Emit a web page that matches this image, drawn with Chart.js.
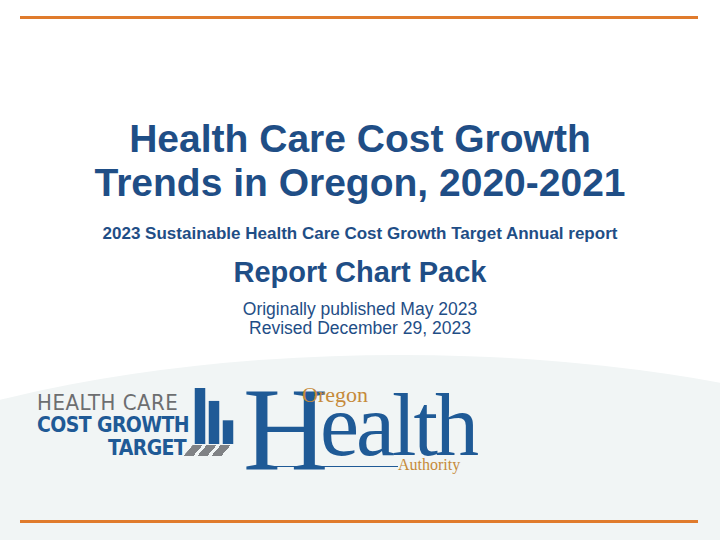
<!DOCTYPE html>
<html><head><meta charset="utf-8">
<script src="https://cdn.jsdelivr.net/npm/chart.js@4"></script>
<style>
body{margin:0;width:720px;height:540px;position:relative;overflow:hidden;background:#fff;font-family:"Liberation Sans",Arial,sans-serif;color:#1f4e86}
.rule{position:absolute;left:20px;width:678px;height:3px;background:#e07b2c}
.c{position:absolute;left:0;width:720px;text-align:center}
.bg{position:absolute;left:-300px;top:355px;width:1400px;height:500px;border-radius:50%;background:#f1f5f5}
.t{position:absolute;white-space:nowrap}
</style></head><body>
<div class="bg"></div>
<div class="rule" style="top:16px"></div>
<div class="rule" style="top:520px"></div>
<div class="c" style="top:117px;font-size:39px;font-weight:bold;line-height:44px">Health Care Cost Growth<br>Trends in Oregon, 2020-2021</div>
<div class="c" style="top:224px;font-size:17px;font-weight:bold">2023 Sustainable Health Care Cost Growth Target Annual report</div>
<div class="c" style="top:256px;font-size:29px;font-weight:bold">Report Chart Pack</div>
<div class="c" style="top:300px;font-size:17.5px;line-height:19px">Originally published May 2023<br>Revised December 29, 2023</div>

<div class="t" style="left:37px;top:390px;font-size:22px;color:#6d6e70;font-family:'DejaVu Sans Condensed';letter-spacing:0.5px">HEALTH CARE</div>
<div class="t" style="left:37px;top:413px;font-size:21px;color:#1f5a96;font-weight:bold;font-family:'DejaVu Sans Condensed';letter-spacing:-0.6px">COST GROWTH</div>
<div class="t" style="left:108px;top:436px;font-size:21px;color:#1f5a96;font-weight:bold;font-family:'DejaVu Sans Condensed';letter-spacing:-0.6px">TARGET</div>
<div style="position:absolute;left:188px;top:445px;width:40px;height:11px;background:repeating-linear-gradient(90deg,#808285 0 10px,transparent 10px 14px);transform:skewX(-40deg)"></div>
<div style="position:absolute;left:193px;top:388px;width:42px;height:56px"><canvas id="logo"></canvas></div>

<div class="t" style="left:243px;top:362px;font-size:118px;color:#1f5a96;font-family:'Liberation Serif'">H</div>
<div class="t" style="left:320px;top:375px;font-size:88px;color:#1f5a96;font-family:'Liberation Serif';letter-spacing:-3px">ealth</div>
<div class="t" style="left:302px;top:382px;font-size:22px;color:#c68a3a;font-family:'Liberation Serif'">Oregon</div>
<div style="position:absolute;left:262px;top:466px;width:136px;height:1px;background:#1f5a96"></div>
<div class="t" style="left:398px;top:456px;font-size:16px;color:#c68a3a;font-family:'Liberation Serif'">Authority</div>
<script>
const barNames = ["a", "b", "c"];
const barHeights = [52, 40, 22];
new Chart(document.getElementById("logo"), {
  type: "bar",
  data: { labels: barNames, datasets: [{ data: barHeights, backgroundColor: "#1f5a96", barPercentage: 0.75, categoryPercentage: 1 }] },
  options: {
    responsive: true, maintainAspectRatio: false, animation: false,
    layout: { padding: 0 },
    plugins: { legend: { display: false }, tooltip: { enabled: false } },
    scales: { x: { display: false }, y: { display: false, min: 0, max: 52 } }
  }
});
</script>
</body></html>
